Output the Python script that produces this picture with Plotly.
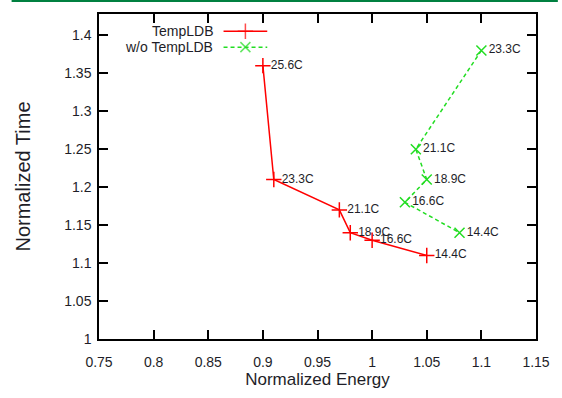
import plotly.graph_objects as go

# Data
ldb_energy = [0.90, 0.91, 0.97, 0.98, 1.00, 1.05]
ldb_time = [1.36, 1.21, 1.17, 1.14, 1.13, 1.11]
ldb_labels = ["25.6C", "23.3C", "21.1C", "18.9C", "16.6C", "14.4C"]

wo_energy = [1.10, 1.04, 1.05, 1.03, 1.08]
wo_time = [1.38, 1.25, 1.21, 1.18, 1.14]
wo_labels = ["23.3C", "21.1C", "18.9C", "16.6C", "14.4C"]

x_ticks = [0.75, 0.8, 0.85, 0.9, 0.95, 1, 1.05, 1.1, 1.15]
y_ticks = [1, 1.05, 1.1, 1.15, 1.2, 1.25, 1.3, 1.35, 1.4]

series_names = ["TempLDB", "w/o TempLDB"]

RED = "#ff0000"
GREEN = "#22dd22"
FONT = "Liberation Sans, Arial, sans-serif"
TXT = "#1e1e28"

fig = go.Figure()

fig.add_trace(go.Scatter(
    x=ldb_energy, y=ldb_time, text=ldb_labels,
    mode="lines+markers+text", textposition="middle right",
    line=dict(color=RED, width=1.5),
    marker=dict(symbol="cross-thin", size=11, line=dict(color=RED, width=1.5)),
    textfont=dict(family=FONT, size=12, color=TXT),
    showlegend=False, cliponaxis=False,
))
fig.add_trace(go.Scatter(
    x=wo_energy, y=wo_time, text=wo_labels,
    mode="lines+markers+text", textposition="middle right",
    line=dict(color=GREEN, width=1.5, dash="4px,3px"),
    marker=dict(symbol="x-thin", size=10, line=dict(color=GREEN, width=1.5)),
    textfont=dict(family=FONT, size=12, color=TXT),
    showlegend=False, cliponaxis=False,
))

# Custom legend (gnuplot style: text right-aligned, sample to the right)
leg_rows = [0.947, 0.898]
leg_styles = [
    dict(color=RED, dash="solid", symbol="cross-thin", size=11),
    dict(color=GREEN, dash="4px,3px", symbol="x-thin", size=10),
]
for name, yy, st in zip(series_names, leg_rows, leg_styles):
    fig.add_trace(go.Scatter(
        x=[0.285, 0.335, 0.385], y=[yy, yy, yy],
        xaxis="x2", yaxis="y2",
        mode="lines+markers",
        line=dict(color=st["color"], width=1.5, dash=st["dash"]),
        marker=dict(symbol=st["symbol"], size=[0, st["size"], 0],
                    line=dict(color=st["color"], width=1.5)),
        showlegend=False, hoverinfo="skip",
    ))
    fig.add_annotation(
        x=0.265, y=yy, xref="x2", yref="y2", text=name, showarrow=False,
        xanchor="right", yanchor="middle",
        font=dict(family=FONT, size=14, color=TXT),
    )

axis_common = dict(
    showline=True, linecolor="black", linewidth=1.5, mirror="allticks",
    ticks="inside", ticklen=9, tickwidth=1.5, tickcolor="black",
    showgrid=False, zeroline=False,
    tickfont=dict(family=FONT, size=14, color=TXT),
)

fig.update_layout(
    width=562, height=398,
    paper_bgcolor="white", plot_bgcolor="white",
    margin=dict(l=99, r=18, t=13, b=55),
    xaxis=dict(range=[0.75, 1.15], tickvals=x_ticks,
               ticktext=[f"{v:g}" for v in x_ticks],
               ticklabelstandoff=9,
               title=dict(text="Normalized Energy", standoff=5,
                          font=dict(family=FONT, size=17, color=TXT)),
               **axis_common),
    yaxis=dict(range=[1, 1.428], tickvals=y_ticks,
               ticktext=[f"{v:g}" for v in y_ticks],
               ticklabelstandoff=3,
               title=dict(text="Normalized Time", standoff=28,
                          font=dict(family=FONT, size=20, color=TXT)),
               **axis_common),
    xaxis2=dict(overlaying="x", range=[0, 1], visible=False, anchor="y2"),
    yaxis2=dict(overlaying="y", range=[0, 1], visible=False, anchor="x2"),
    shapes=[dict(type="line", xref="paper", yref="paper",
                 x0=-0.2, x1=1.05, y0=1.04, y1=1.04,
                 line=dict(color="#008040", width=2))],
)

fig.write_html("out.html")
